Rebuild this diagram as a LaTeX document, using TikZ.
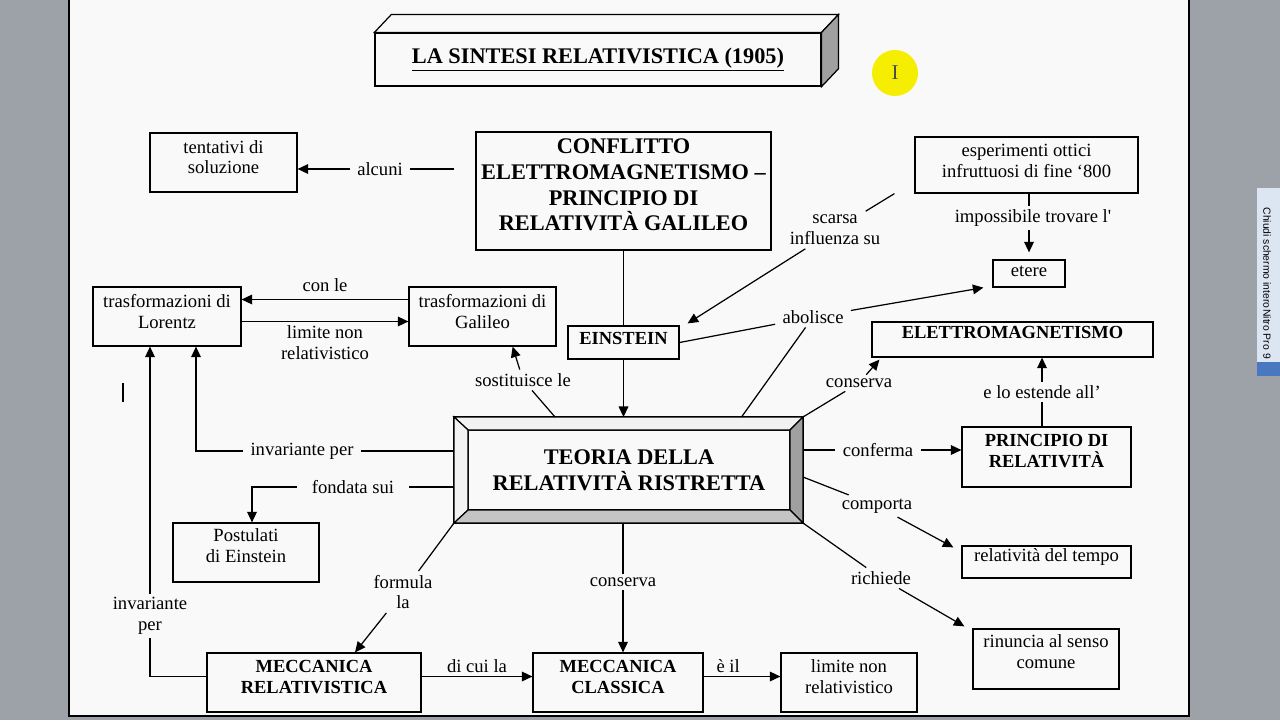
\documentclass[tikz,border=0pt]{standalone}
\usepackage{fontspec}
\setmainfont{Liberation Serif}
\newfontfamily\uifont{Liberation Sans}
\usetikzlibrary{arrows.meta, calc}

\newcommand{\normtxt}{\fontsize{10.6}{11.9}\selectfont}
\newcommand{\midbf}{\fontsize{10.5}{11.8}\selectfont\bfseries}
\newcommand{\bigbf}{\fontsize{12.7}{14.6}\selectfont\bfseries}

\definecolor{deskgray}{HTML}{9DA2A9}
\definecolor{pagewhite}{HTML}{F9F9F9}
\definecolor{bevellight}{HTML}{F2F2F2}
\definecolor{beveldark}{HTML}{A0A0A0}
\definecolor{bevelmid}{HTML}{C4C4C4}
\definecolor{barblue}{HTML}{DCE6F2}
\definecolor{bardark}{HTML}{4A78C0}
\definecolor{hilite}{HTML}{F6EE00}

\begin{document}
\begin{tikzpicture}[
    x=0.02cm, y=-0.02cm,
    >={Triangle[length=6pt, width=5.5pt]},
    box/.style={draw, line width=0.7pt, fill=pagewhite, align=center, inner sep=0pt, font=\normtxt},
    boldbox/.style={box, font=\midbf},
    lbl/.style={inner xsep=4pt, inner ysep=2pt, align=center, font=\normtxt},
    line/.style={line width=0.7pt},
    arrow/.style={->, line width=0.7pt},
]
\useasboundingbox (0,0) rectangle (1280,720);

% pagina
\fill[deskgray] (0,0) rectangle (1280,720);
\draw[line width=1.2pt, fill=pagewhite] (69,-5) rectangle (1189,716);
\fill[barblue] (1257,188) rectangle (1280,376);
\fill[bardark] (1257,362) rectangle (1280,376);
\node[rotate=-90, inner sep=0pt, font=\uifont\fontsize{5.9}{7}\selectfont] (chiudi) at (1267,258) {Chiudi schermo intero};
\node[rotate=-90, inner sep=0pt, font=\uifont\fontsize{5.9}{7}\selectfont] (nitro) at (1267,334) {Nitro Pro 9};
\node[circle, fill=hilite, minimum size=0.92cm, inner sep=0pt, text=black!70,
      font=\fontsize{12}{13}\selectfont] (cursore) at (895,73) {I};
\draw[line width=1.1pt] (123,383) -- (123,402);

% titolo
\node[draw, line width=0.7pt, fill=pagewhite, minimum width=8.92cm, minimum height=1.06cm,
      font=\bigbf] (titolo) at (598,59.5) {\underline{LA SINTESI RELATIVISTICA (1905)}};
\draw[line, fill=pagewhite] (titolo.north west) -- ++(17,-18) -- ($(titolo.north east)+(17,-18)$) -- (titolo.north east) -- cycle;
\draw[line, fill=beveldark] (titolo.north east) -- ++(17,-18) -- ($(titolo.south east)+(17,-18)$) -- (titolo.south east) -- cycle;

% riquadri
\node[box, minimum width=2.94cm, minimum height=1.18cm, text depth=6.2pt] (tentativi) at (223.5,162.5) {tentativi di\\soluzione};
\node[box, font=\bigbf, minimum width=5.9cm, minimum height=2.36cm, text depth=6.8pt] (conflitto) at (623.5,191)
    {CONFLITTO\\ELETTROMAGNETISMO --\\PRINCIPIO DI\\RELATIVITÀ GALILEO};
\node[box, minimum width=4.46cm, minimum height=1.12cm, text depth=4.5pt] (esperimenti) at (1026.5,165)
    {esperimenti ottici\\infruttuosi di fine `800};
\node[box, minimum width=1.44cm, minimum height=0.54cm, text depth=3pt] (etere) at (1029,273.5) {etere};
\node[box, minimum width=2.96cm, minimum height=1.18cm, text depth=6.2pt] (lorentz) at (167,316.5) {trasformazioni di\\Lorentz};
\node[box, minimum width=2.94cm, minimum height=1.18cm, text depth=6.2pt] (galileo) at (482.5,316.5) {trasformazioni di\\Galileo};
\node[boldbox, minimum width=2.22cm, minimum height=0.66cm, text depth=5pt] (einstein) at (623.5,342.5) {EINSTEIN};
\node[boldbox, minimum width=5.62cm, minimum height=0.7cm, text depth=8pt] (elettro) at (1012.5,339.5) {ELETTROMAGNETISMO};
\node[boldbox, minimum width=3.38cm, minimum height=1.2cm, text depth=6.8pt] (principio) at (1046.5,457) {PRINCIPIO DI\\RELATIVITÀ};
\node[box, minimum width=3.38cm, minimum height=0.64cm, text depth=8pt] (tempo) at (1046.5,562) {relatività del tempo};
\node[box, minimum width=2.92cm, minimum height=1.2cm, text depth=8.5pt] (rinuncia) at (1046,659) {rinuncia al senso\\comune};
\node[box, minimum width=2.92cm, minimum height=1.18cm, text depth=8pt] (postulati) at (246,552.5) {Postulati\\di Einstein};
\node[boldbox, minimum width=4.28cm, minimum height=1.18cm, text depth=6.8pt] (meccrel) at (314,682.5) {MECCANICA\\RELATIVISTICA};
\node[boldbox, minimum width=3.4cm, minimum height=1.18cm, text depth=6.8pt] (classica) at (618,682.5) {MECCANICA\\CLASSICA};
\node[box, minimum width=2.72cm, minimum height=1.18cm, text depth=6.8pt] (limite) at (849,682.5) {limite non\\relativistico};

% teoria (riquadro smussato)
\node[draw, line width=0.7pt, outer sep=0pt, minimum width=6.98cm, minimum height=2.12cm] (teoria) at (628.5,470) {};
\node[box, font=\bigbf, outer sep=0pt, minimum width=6.44cm, minimum height=1.6cm] (teoriatxt) at (629,470)
    {TEORIA DELLA\\RELATIVITÀ RISTRETTA};
\draw[line, fill=bevellight] (teoria.north west) -- (teoria.north east) -- (teoriatxt.north east) -- (teoriatxt.north west) -- cycle;
\draw[line, fill=bevellight] (teoria.north west) -- (teoriatxt.north west) -- (teoriatxt.south west) -- (teoria.south west) -- cycle;
\draw[line, fill=beveldark] (teoria.north east) -- (teoria.south east) -- (teoriatxt.south east) -- (teoriatxt.north east) -- cycle;
\draw[line, fill=bevelmid] (teoria.south west) -- (teoria.south east) -- (teoriatxt.south east) -- (teoriatxt.south west) -- cycle;

% etichette
\node[lbl] (alcuni) at (380,169) {alcuni};
\node[lbl] (scarsa) at (835,230) {scarsa\\influenza su};
\node[lbl] (impossibile) at (1033,218) {impossibile trovare l\textquotesingle};
\node[lbl] (abolisce) at (813,317) {abolisce};
\node[lbl] (conservaup) at (859,383) {conserva};
\node[lbl] (estende) at (1042,392) {e lo estende all'};
\node[lbl] (conferma) at (878,450) {conferma};
\node[lbl] (comporta) at (877,506) {comporta};
\node[lbl] (richiede) at (881,578) {richiede};
\node[lbl] (conservadn) at (623,582) {conserva};
\node[lbl] (formula) at (403,592) {formula\\la};
\node[lbl] (invar1) at (302,451) {invariante per};
\node[lbl] (invar2) at (150,616) {invariante\\per};
\node[lbl, inner xsep=8pt] (fondata) at (353,487) {fondata sui};
\node[lbl] (sostituisce) at (523,380) {sostituisce le};

% frecce in alto
\draw[line, shorten <=12pt] (conflitto.west |- alcuni) -- (alcuni);
\draw[arrow] (alcuni) -- (tentativi.east |- alcuni);
\draw[line] (conflitto) -- (einstein);
\draw[arrow] (einstein) -- (einstein |- teoria.north);
\draw[line] ($(esperimenti.south west)+(-20,0)$) -- (scarsa);
\draw[arrow] (scarsa) -- ($(einstein.north east)+(8,-2)$);
\draw[line] (etere |- esperimenti.south) -- (etere |- impossibile.north);
\draw[arrow, shorten >=4pt] (etere |- impossibile.south) -- (etere.north);
\draw[line] (einstein.east) -- (abolisce);
\draw[line] ($(teoria.north)+(113,0)$) -- (abolisce);
\draw[arrow] (abolisce) -- ($(etere.south west)+(-9,0)$);

% lato destro
\draw[line] (teoria.north east) -- (conservaup);
\draw[arrow] (conservaup) -- ($(elettro.south west)+(8,2)$);
\draw[line] (estende |- principio.north) -- (estende);
\draw[arrow] (estende) -- (estende |- elettro.south);
\draw[line] (teoria.east |- conferma) -- (conferma);
\draw[arrow] (conferma) -- (principio.west |- conferma);
\draw[line] ($(teoria.east)+(0,7)$) -- (comporta);
\draw[arrow] (comporta) -- ($(tempo.north west)+(-8,2)$);
\draw[line] (teoria.south east) -- (richiede);
\draw[arrow] (richiede) -- ($(rinuncia.north west)+(-8,-2)$);

% in basso
\draw[line] (teoria.south -| conservadn) -- (conservadn);
\draw[arrow] (conservadn) -- (conservadn |- classica.north);
\draw[line] (teoria.south west) -- (formula);
\draw[arrow] (formula) -- ($(meccrel.north)+(41,0)$);
\draw[arrow] ($(meccrel.east)+(0,-6)$) -- ($(classica.west)+(0,-6)$) node[lbl, midway, above] (dicui) {di cui la};
\draw[arrow] ($(classica.east)+(0,-6)$) -- ($(limite.west)+(0,-6)$) node[lbl, pos=0.32, above] (eil) {è il};

% lato sinistro
\draw[line] (teoria.west |- invar1) -- (invar1);
\draw[arrow] (invar1) -| ($(lorentz.south)+(29,0)$);
\draw[line] ($(meccrel.west)+(0,-6)$) -| (invar2);
\draw[arrow] (invar2) -- (invar2 |- lorentz.south);
\draw[line] (teoria.west |- fondata) -- (fondata);
\draw[arrow] (fondata) -| ($(postulati.north)+(6,0)$);
\draw[line] ($(teoria.north west)+(101,0)$) -- (sostituisce);
\draw[arrow] (sostituisce) -- ($(galileo.south east)+(-44,0)$);
\draw[arrow] ($(galileo.west)+(0,-17)$) -- ($(lorentz.east)+(0,-17)$) node[lbl, midway, above=2pt] (conle) {con le};
\draw[arrow] ($(lorentz.east)+(0,5)$) -- ($(galileo.west)+(0,5)$) node[lbl, midway, below] (limnonrel) {limite non\\relativistico};

\end{tikzpicture}
\end{document}
